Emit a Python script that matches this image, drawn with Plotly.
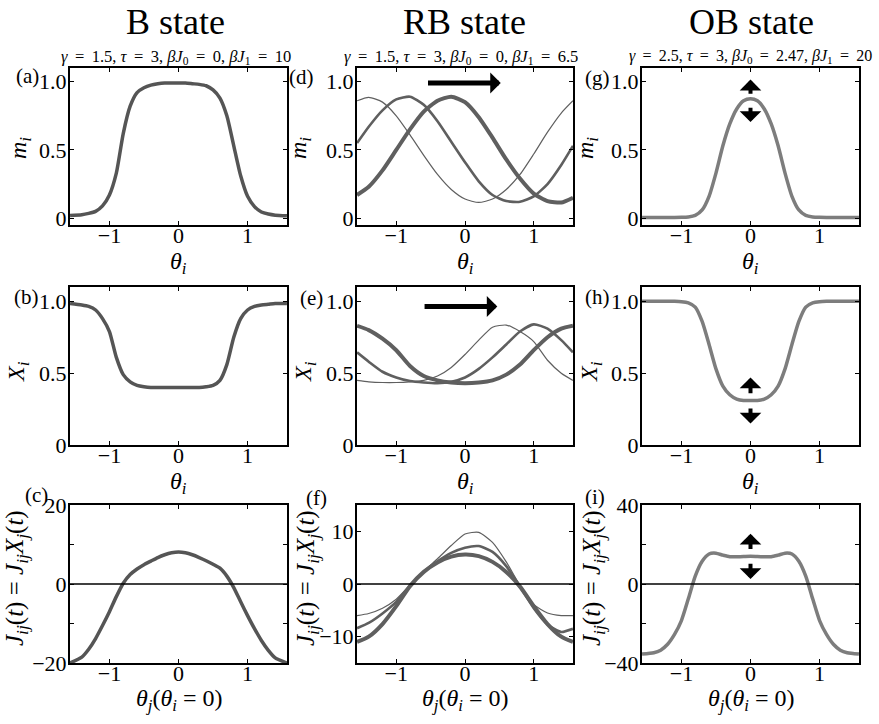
import plotly.graph_objects as go
from plotly.subplots import make_subplots

# ---------------- data ----------------
theta = [-1.57, -1.4, -1.3, -1.2, -1.1, -1.0, -0.9, -0.8, -0.7, -0.6, -0.5, -0.4, -0.3, -0.2, -0.1,
         0.0, 0.1, 0.2, 0.3, 0.4, 0.5, 0.6, 0.7, 0.8, 0.9, 1.0, 1.1, 1.2, 1.3, 1.4, 1.57]

# B state
m_B = [0.02, 0.025, 0.035, 0.05, 0.09, 0.17, 0.33, 0.62, 0.82, 0.92, 0.955, 0.975, 0.985, 0.99, 0.99,
       0.99, 0.99, 0.985, 0.98, 0.97, 0.94, 0.88, 0.75, 0.53, 0.31, 0.16, 0.085, 0.045, 0.03, 0.022, 0.018]
X_B = [0.985, 0.975, 0.965, 0.94, 0.88, 0.79, 0.61, 0.49, 0.44, 0.415, 0.405, 0.40, 0.40, 0.40, 0.40,
       0.40, 0.40, 0.40, 0.40, 0.405, 0.415, 0.45, 0.56, 0.75, 0.88, 0.94, 0.965, 0.975, 0.98, 0.985, 0.985]
J_B = [-20, -18.5, -16.5, -13.8, -10.5, -7.0, -3.2, 0.2, 2.4, 3.8, 4.9, 5.8, 6.7, 7.4, 7.9,
       8.1, 7.9, 7.4, 6.7, 5.9, 5.0, 4.0, 2.0, -0.9, -4.5, -8.0, -11.3, -14.3, -16.8, -18.7, -20]

# RB state (three snapshots: thin, medium, thick)
theta_rb = [-1.57, -1.4, -1.2, -1.0, -0.8, -0.6, -0.4, -0.2, 0.0, 0.2, 0.4, 0.6, 0.8, 1.0, 1.2, 1.4, 1.57]
m_RB_1 = [0.86, 0.885, 0.85, 0.75, 0.61, 0.46, 0.32, 0.21, 0.14, 0.115, 0.14, 0.21, 0.32, 0.47, 0.63, 0.77, 0.86]
m_RB_2 = [0.55, 0.67, 0.79, 0.87, 0.89, 0.83, 0.71, 0.56, 0.41, 0.27, 0.17, 0.125, 0.12, 0.16, 0.25, 0.39, 0.53]
m_RB_3 = [0.17, 0.23, 0.35, 0.5, 0.65, 0.78, 0.86, 0.89, 0.85, 0.74, 0.59, 0.43, 0.29, 0.18, 0.125, 0.115, 0.15]
X_RB_1 = [0.45, 0.44, 0.435, 0.435, 0.44, 0.45, 0.48, 0.54, 0.63, 0.73, 0.82, 0.835, 0.79, 0.72, 0.59, 0.5, 0.45]
X_RB_2 = [0.645, 0.58, 0.51, 0.47, 0.445, 0.435, 0.43, 0.44, 0.47, 0.53, 0.61, 0.70, 0.79, 0.84, 0.81, 0.73, 0.645]
X_RB_3 = [0.83, 0.80, 0.74, 0.66, 0.55, 0.48, 0.45, 0.435, 0.43, 0.435, 0.45, 0.49, 0.56, 0.66, 0.75, 0.81, 0.83]
J_RB_1 = [-6.0, -5.6, -4.6, -2.9, -0.2, 2.4, 4.8, 7.3, 9.5, 9.8, 7.9, 4.2, -0.3, -3.9, -5.5, -6.0, -6.0]
J_RB_2 = [-8.4, -7.4, -5.6, -3.4, -0.3, 2.3, 4.3, 5.9, 6.9, 7.2, 6.1, 3.4, -0.5, -4.6, -7.7, -9.1, -8.5]
J_RB_3 = [-11.0, -10.0, -7.6, -4.2, -0.4, 2.3, 4.1, 5.2, 5.6, 5.3, 4.2, 2.3, -0.5, -4.2, -7.6, -10.0, -11.0]

# OB state
m_OB = [0.005, 0.005, 0.005, 0.005, 0.005, 0.006, 0.009, 0.02, 0.06, 0.16, 0.33, 0.53, 0.69, 0.80, 0.86,
        0.875, 0.86, 0.80, 0.69, 0.53, 0.33, 0.16, 0.06, 0.02, 0.009, 0.006, 0.005, 0.005, 0.005, 0.005, 0.005]
X_OB = [1.0, 1.0, 1.0, 1.0, 1.0, 0.998, 0.99, 0.96, 0.86, 0.70, 0.53, 0.41, 0.35, 0.32, 0.31,
        0.31, 0.31, 0.32, 0.35, 0.41, 0.53, 0.70, 0.86, 0.96, 0.99, 0.998, 1.0, 1.0, 1.0, 1.0, 1.0]
J_OB = [-35.5, -34.8, -33.5, -30.5, -25.5, -18.5, -7.5, 4.0, 11.5, 15.2, 15.6, 14.6, 13.8, 13.8, 13.9,
        14.0, 13.9, 13.8, 13.8, 14.6, 15.6, 15.2, 11.5, 4.0, -7.5, -18.5, -25.5, -30.5, -33.5, -34.8, -35.5]

x_tick_vals = [-1, 0, 1]
x_tick_text = ["\u22121", "0", "1"]
y_ticks_frac = ([0, 0.5, 1.0], ["0", "0.5", "1.0"])
y_ticks_J = {
    0: ([-20, -10, 0, 10, 20], ["\u221220", "", "0", "", "20"]),
    1: ([-10, 0, 10], ["\u221210", "0", "10"]),
    2: ([-40, -20, 0, 20, 40], ["\u221240", "", "0", "", "40"]),
}
y_ranges = {(0, 0): [-0.05, 1.1], (0, 1): [-0.05, 1.1], (0, 2): [-0.05, 1.1],
            (1, 0): [0, 1.1], (1, 1): [0, 1.1], (1, 2): [0, 1.1],
            (2, 0): [-20, 20], (2, 1): [-15, 15], (2, 2): [-40, 40]}

# ---------------- figure ----------------
W, H = 879, 724
FONT = "Times New Roman, Liberation Serif, Tinos, DejaVu Serif, serif"
fig = make_subplots(rows=3, cols=3)

C_B = "rgb(85,85,85)"
C_RB = "rgb(95,95,95)"
C_OB = "rgb(125,125,125)"


def add(row, col, x, y, width, color):
    fig.add_trace(go.Scatter(x=x, y=y, mode="lines",
                             line=dict(color=color, width=width, shape="spline", smoothing=0.6),
                             showlegend=False, hoverinfo="skip"), row=row, col=col)


add(1, 1, theta, m_B, 3.5, C_B)
add(2, 1, theta, X_B, 3.5, C_B)
add(3, 1, theta, J_B, 3.5, C_B)

for ys, w in ((m_RB_1, 1.2), (m_RB_2, 2.6), (m_RB_3, 4.0)):
    add(1, 2, theta_rb, ys, w, C_RB)
for ys, w in ((X_RB_1, 1.2), (X_RB_2, 2.6), (X_RB_3, 4.0)):
    add(2, 2, theta_rb, ys, w, C_RB)
for ys, w in ((J_RB_1, 1.2), (J_RB_2, 2.6), (J_RB_3, 4.0)):
    add(3, 2, theta_rb, ys, w, C_RB)

add(1, 3, theta, m_OB, 3.5, C_OB)
add(2, 3, theta, X_OB, 3.5, C_OB)
add(3, 3, theta, J_OB, 3.5, C_OB)

col_px = [(70, 287), (357, 573), (642, 859)]
row_px = [(68, 225), (287, 445), (505, 663)]

layout = {}
for r in range(3):
    for c in range(3):
        idx = r * 3 + c + 1
        xk = "xaxis" if idx == 1 else f"xaxis{idx}"
        yk = "yaxis" if idx == 1 else f"yaxis{idx}"
        common = dict(showline=True, linecolor="black", linewidth=2, mirror="ticks",
                      ticks="inside", ticklen=4, tickwidth=1.3, tickcolor="black",
                      showgrid=False, zeroline=False, automargin=False,
                      tickfont=dict(family=FONT, size=22, color="black"))
        layout[xk] = dict(common, domain=[col_px[c][0] / W, col_px[c][1] / W],
                          range=[-1.5708, 1.5708], tickvals=x_tick_vals, ticktext=x_tick_text,
                          ticklabelstandoff=-10)
        if r < 2:
            tv, tt = y_ticks_frac
        else:
            tv, tt = y_ticks_J[c]
        layout[yk] = dict(common, domain=[1 - row_px[r][1] / H, 1 - row_px[r][0] / H],
                          range=y_ranges[(r, c)], tickvals=tv, ticktext=tt,
                          ticklabelstandoff=-3)
fig.update_layout(**layout)

# zero lines in the bottom row
for c in range(3):
    idx = 7 + c
    fig.add_shape(type="line", xref=f"x{idx} domain", yref=f"y{idx}",
                  x0=0, x1=1, y0=0, y1=0, line=dict(color="black", width=1.6))

annotations = []


def ann(text, px, py, size, angle=0):
    annotations.append(dict(text=text, x=px / W, y=1 - py / H, xref="paper", yref="paper",
                            showarrow=False, textangle=angle, xanchor="center", yanchor="middle",
                            font=dict(family=FONT, size=size, color="black")))


EQ = "\u2009=\u2009"
# column titles
ann("B state", 175, 22, 36)
ann("RB state", 464, 22, 36)
ann("OB state", 751, 22, 36)
# parameter subtitles
ann(f"<i>\u03b3</i> {EQ} 1.5, <i>\u03c4</i> {EQ} 3, <i>\u03b2J</i><sub>0</sub> {EQ} 0, <i>\u03b2J</i><sub>1</sub> {EQ} 10", 176, 57, 16.5)
ann(f"<i>\u03b3</i> {EQ} 1.5, <i>\u03c4</i> {EQ} 3, <i>\u03b2J</i><sub>0</sub> {EQ} 0, <i>\u03b2J</i><sub>1</sub> {EQ} 6.5", 461, 57, 16.5)
ann(f"<i>\u03b3</i> {EQ} 2.5, <i>\u03c4</i> {EQ} 3, <i>\u03b2J</i><sub>0</sub> {EQ} 2.47, <i>\u03b2J</i><sub>1</sub> {EQ} 20", 750, 57, 16)
# panel labels
for lab, px, py in (("(a)", 27, 76), ("(d)", 301, 77), ("(g)", 597, 78),
                    ("(b)", 26, 297), ("(e)", 311, 298), ("(h)", 597, 297),
                    ("(c)", 36, 495), ("(f)", 316, 498), ("(i)", 595, 497)):
    ann(lab, px, py, 21)
# axis titles
cx = [178.5, 465, 750.5]
ylab_x = [[20, 300, 587], [18, 305, 591], [16, 307, 593]]
for c in range(3):
    ann("<i>m<sub>i</sub></i>", ylab_x[0][c], 148, 24, -90)
    ann("<i>X<sub>i</sub></i>", ylab_x[1][c], 372, 24, -90)
    ann("<i>J<sub>ij</sub></i>(<i>t</i>) = <i>J<sub>ij</sub>X<sub>j</sub></i>(<i>t</i>)",
        ylab_x[2][c], 578, 25, -90)
    ann("<i>\u03b8<sub>i</sub></i>", cx[c], 263, 24)
    ann("<i>\u03b8<sub>i</sub></i>", cx[c], 483, 24)
    ann("<i>\u03b8<sub>j</sub></i>(<i>\u03b8<sub>i</sub></i> = 0)", cx[c], 700, 24)


def arrow(xa, ya, hx, hy, tx, ty, width, size):
    annotations.append(dict(x=hx, y=hy, ax=tx, ay=ty, xref=xa, yref=ya,
                            axref=xa, ayref=ya, text="", showarrow=True,
                            arrowhead=1, arrowsize=size, arrowwidth=width, arrowcolor="black"))


arrow("x2", "y2", 0.52, 0.99, -0.56, 0.99, 5, 0.7)
arrow("x5", "y5", 0.47, 0.965, -0.61, 0.965, 5, 0.7)
arrow("x3", "y3", 0, 1.015, 0, 0.90, 4, 0.9)
arrow("x3", "y3", 0, 0.705, 0, 0.82, 4, 0.9)
arrow("x6", "y6", 0, 0.47, 0, 0.35, 4, 0.9)
arrow("x6", "y6", 0, 0.15, 0, 0.265, 4, 0.9)
arrow("x9", "y9", 0, 25.5, 0, 17.0, 4, 0.9)
arrow("x9", "y9", 0, 2.5, 0, 11.0, 4, 0.9)

fig.update_layout(annotations=annotations, width=W, height=H, autosize=False,
                  margin=dict(l=0, r=0, t=0, b=0, pad=0, autoexpand=False),
                  paper_bgcolor="white", plot_bgcolor="white",
                  font=dict(family=FONT, color="black"), showlegend=False)

fig.write_html("out.html", config={"displayModeBar": False},
               post_script="document.body.style.margin='0';document.body.style.overflow='hidden';")
